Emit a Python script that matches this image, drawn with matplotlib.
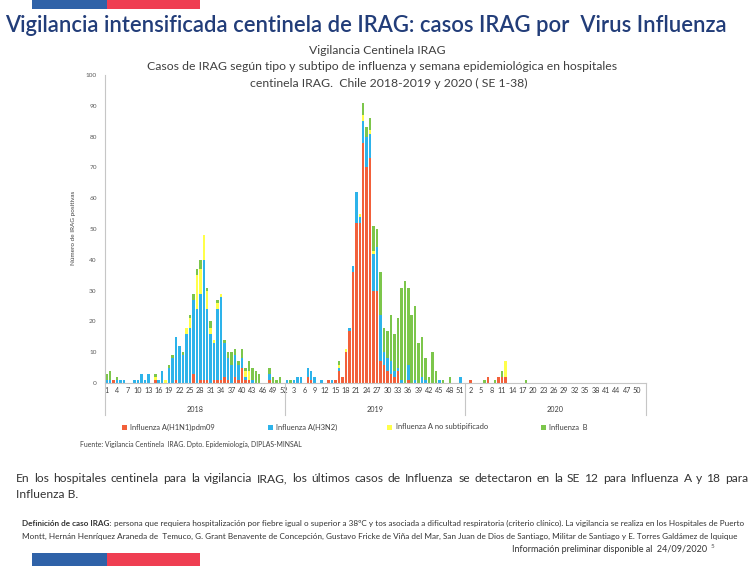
import matplotlib.pyplot as plt
import matplotlib.transforms as mtransforms
from matplotlib.patches import Rectangle
import numpy as np

plt.rcParams['font.family'] = ['Lato', 'DejaVu Sans']

# casos IRAG por semana epidemiologica (SE 1-52) y subtipo
h1n1_2018 = [0, 0, 1, 0, 0, 0, 0, 0, 0, 0,
             0, 0, 0, 0, 1, 0, 0, 0, 0, 0,
             1, 0, 0, 0, 0, 3, 0, 1, 1, 1,
             0, 1, 1, 1, 2, 1, 0, 2, 1, 5,
             1, 1, 0, 0, 0, 0, 0, 1, 0, 0,
             0, 0]
h3n2_2018 = [1, 1, 0, 1, 1, 1, 0, 0, 1, 1,
             3, 1, 3, 0, 0, 1, 4, 0, 5, 8,
             14, 12, 9, 16, 18, 24, 24, 28, 39, 23,
             16, 12, 23, 27, 11, 7, 6, 7, 5, 3,
             1, 0, 1, 0, 0, 0, 0, 2, 0, 0,
             0, 0]
nosub_2018 = [0, 0, 0, 0, 0, 0, 0, 0, 0, 0,
              0, 0, 0, 0, 1, 0, 0, 1, 0, 0,
              0, 0, 0, 2, 3, 0, 11, 8, 8, 6,
              2, 1, 2, 1, 0, 0, 0, 0, 0, 0,
              2, 3, 0, 0, 0, 0, 0, 0, 0, 0,
              0, 0]
b_2018 = [2, 3, 0, 1, 0, 0, 0, 0, 0, 0,
          0, 0, 0, 0, 1, 0, 0, 0, 1, 1,
          0, 0, 1, 0, 1, 2, 2, 3, 0, 1,
          2, 0, 1, 0, 1, 2, 4, 2, 1, 3,
          1, 3, 4, 4, 3, 0, 0, 2, 2, 1,
          2, 0]

h1n1_2019 = [0, 0, 0, 0, 0, 0, 2, 1, 0, 0,
             0, 0, 1, 0, 1, 4, 2, 10, 17, 36,
             52, 52, 78, 70, 73, 30, 30, 7, 6, 4,
             3, 2, 4, 0, 0, 1, 0, 0, 0, 0,
             0, 0, 0, 0, 0, 0, 0, 0, 0, 0,
             0, 0]
h3n2_2019 = [1, 0, 1, 2, 2, 0, 3, 3, 2, 0,
             1, 0, 0, 1, 0, 1, 0, 0, 1, 2,
             10, 2, 7, 10, 8, 12, 14, 15, 4, 4,
             4, 2, 1, 1, 0, 5, 0, 1, 0, 2,
             1, 0, 0, 0, 1, 0, 0, 0, 0, 0,
             2, 0]
nosub_2019 = [0, 0, 0, 0, 0, 0, 0, 0, 0, 0,
              0, 0, 0, 0, 0, 1, 0, 1, 0, 0,
              0, 1, 2, 0, 1, 1, 0, 0, 0, 0,
              0, 0, 0, 0, 0, 0, 0, 0, 0, 0,
              0, 0, 0, 0, 0, 0, 0, 0, 0, 0,
              0, 0]
b_2019 = [0, 1, 0, 0, 0, 0, 0, 0, 0, 0,
          0, 0, 0, 0, 0, 1, 0, 0, 0, 0,
          0, 0, 4, 3, 4, 8, 6, 14, 8, 9,
          15, 12, 16, 30, 33, 25, 22, 24, 13, 13,
          7, 2, 10, 4, 0, 1, 0, 2, 0, 0,
          0, 0]

h1n1_2020 = [0, 1, 0, 0, 0, 0, 2, 0, 0, 2,
             2, 2, 0, 0, 0, 0, 0, 0, 0, 0,
             0, 0, 0, 0, 0, 0, 0, 0, 0, 0,
             0, 0, 0, 0, 0, 0, 0, 0, 0, 0,
             0, 0, 0, 0, 0, 0, 0, 0, 0, 0,
             0, 0]
h3n2_2020 = [0] * 52
nosub_2020 = [0, 0, 0, 0, 0, 0, 0, 0, 0, 0,
              0, 5, 0, 0, 0, 0, 0, 0, 0, 0,
              0, 0, 0, 0, 0, 0, 0, 0, 0, 0,
              0, 0, 0, 0, 0, 0, 0, 0, 0, 0,
              0, 0, 0, 0, 0, 0, 0, 0, 0, 0,
              0, 0]
b_2020 = [0, 0, 0, 0, 0, 1, 0, 0, 1, 0,
          2, 0, 0, 0, 0, 0, 0, 1, 0, 0,
          0, 0, 0, 0, 0, 0, 0, 0, 0, 0,
          0, 0, 0, 0, 0, 0, 0, 0, 0, 0,
          0, 0, 0, 0, 0, 0, 0, 0, 0, 0,
          0, 0]

years = ["2018", "2019", "2020"]
weeks = list(range(1, 53)) * 3
series_names = ["Influenza A(H1N1)pdm09", "Influenza A(H3N2)",
                "Influenza A no subtipificado", "Influenza  B"]
colors = ["#f2603a", "#2db3ea", "#ffff4a", "#7cc64b"]

series = [
    np.array(h1n1_2018 + h1n1_2019 + h1n1_2020),
    np.array(h3n2_2018 + h3n2_2019 + h3n2_2020),
    np.array(nosub_2018 + nosub_2019 + nosub_2020),
    np.array(b_2018 + b_2019 + b_2020),
]

W, H = 754, 566
fig = plt.figure(figsize=(W / 100, H / 100), dpi=100)
fig.patch.set_facecolor("white")
renderer = fig.canvas.get_renderer()


def fx(x):
    return x / W


def fy(y):
    return 1 - y / H


def fit(x, y, s, width, **kw):
    # ajusta el tamaño de letra al ancho del texto en la lamina
    t = fig.text(fx(x), fy(y), s, fontsize=10, va="center", **kw)
    w = t.get_window_extent(renderer=renderer).width
    t.set_fontsize(10 * width / w)
    return t


def justify(x0, y, words, width, fs, **kw):
    # texto justificado: reparte el espacio sobrante entre las palabras
    items = []
    for w in words:
        t = fig.text(0, fy(y), w, fontsize=fs, va="center", **kw)
        items.append((t, t.get_window_extent(renderer=renderer).width))
    gap = (width - sum(wd for _, wd in items)) / (len(items) - 1)
    xpos = x0
    for t, wd in items:
        t.set_x(fx(xpos))
        xpos += wd + gap


# franjas de gobierno
fig.add_artist(Rectangle((fx(32), fy(9)), fx(75), 9 / H, color="#2f62a8", lw=0))
fig.add_artist(Rectangle((fx(107), fy(9)), fx(93), 9 / H, color="#ef3e52", lw=0))
fig.add_artist(Rectangle((fx(32), 0), fx(75), 13 / H, color="#2f62a8", lw=0))
fig.add_artist(Rectangle((fx(107), 0), fx(93), 13 / H, color="#ef3e52", lw=0))

fit(5, 26, "Vigilancia intensificada centinela de IRAG: casos IRAG por  Virus Influenza",
    723, color="#223d79", fontweight="semibold")

# titulo del grafico
sub = fit(147, 67, "Casos de IRAG según tipo y subtipo de influenza y semana epidemiológica en hospitales",
          470, color="#404040")
fs_sub = sub.get_fontsize()
fig.text(fx(377), fy(51), "Vigilancia Centinela IRAG", fontsize=fs_sub,
         color="#404040", ha="center", va="center")
fig.text(fx(389), fy(83), "centinela IRAG.  Chile 2018-2019 y 2020 ( SE 1-38)",
         fontsize=fs_sub, color="#404040", ha="center", va="center")

ax = fig.add_axes([fx(105), fy(383), (645.7 - 105) / W, 308 / H])
x = np.arange(len(weeks))
bottom = np.zeros(len(weeks))
for vals, name, c in zip(series, series_names, colors):
    ax.bar(x, vals, bottom=bottom, width=0.72, color=c, label=name, lw=0)
    bottom += vals

ax.set_xlim(-0.5, len(weeks) - 0.5)
ax.set_ylim(0, 100)
ax.set_yticks(range(0, 101, 10))
ax.set_xticks(x[::3])
ax.set_xticklabels([str(w) for w in weeks[::3]])
ax.tick_params(axis="y", length=0, pad=6, labelsize=4.6, labelcolor="#595959")
ax.tick_params(axis="x", length=0, pad=3, labelsize=5.2, labelcolor="#404040")
for s in ["top", "right"]:
    ax.spines[s].set_visible(False)
for s in ["left", "bottom"]:
    ax.spines[s].set_color("#c6c6c6")
    ax.spines[s].set_linewidth(0.8)

# separadores de año bajo el eje
trans = mtransforms.blended_transform_factory(ax.transData, ax.transAxes)
for xs in [-0.5, 51.5, 103.5, 155.5]:
    ax.plot([xs, xs], [0, -32 / 308], color="#c6c6c6", lw=0.8,
            transform=trans, clip_on=False)
for i, yr in enumerate(years):
    ax.text(i * 52 + 25.5, -26 / 308, yr, transform=trans, ha="center",
            va="center", fontsize=5.2, color="#404040")

fig.text(fx(73), fy(228), "Número de IRAG positivas", rotation=90,
         fontsize=4.6, color="#404040", ha="center", va="center")

# leyenda
legend_x = [124, 270, 390, 543]
for lx, name, c in zip(legend_x, series_names, colors):
    fig.add_artist(Rectangle((fx(lx - 2.5), fy(429.5)), 5 / W, 5 / H, color=c, lw=0))
    fig.text(fx(lx + 6), fy(427), name, fontsize=5.4, color="#404040", va="center")

fit(80, 444, "Fuente: Vigilancia Centinela  IRAG. Dpto. Epidemiología, DIPLAS-MINSAL",
    220, color="#404040")

# texto de la lamina (justificado como en la diapositiva)
last = fit(16, 495, "Influenza B.", 62, color="#333333")
body_fs = last.get_fontsize()
body = ("En los hospitales centinela para la vigilancia IRAG, los últimos casos de "
        "Influenza se detectaron en la SE 12 para Influenza A y 18 para")
justify(16, 479, body.split(), 732, body_fs, color="#333333")

bold = "Definición de caso IRAG: "
rest = ("persona que requiera hospitalización por fiebre igual o superior a 38ºC y tos asociada "
        "a dificultad respiratoria (criterio clínico). La vigilancia se realiza en los Hospitales de Puerto")
line = fit(22, 523, bold + rest, 716, color="#333333")
fs_def = line.get_fontsize()
line.set_visible(False)
tb = fig.text(fx(22), fy(523), bold, fontsize=fs_def, fontweight="bold",
              color="#333333", va="center")
wb = tb.get_window_extent(renderer=renderer).width
fig.text(fx(22 + wb), fy(523), rest, fontsize=fs_def, color="#333333", va="center")
fig.text(fx(22), fy(536), "Montt, Hernán Henríquez Araneda de  Temuco, G. Grant Benavente de "
         "Concepción, Gustavo Fricke de Viña del Mar, San Juan de Dios de Santiago, Militar de "
         "Santiago y E. Torres Galdámez de Iquique", fontsize=fs_def, color="#333333", va="center")

fit(512, 550, "Información preliminar disponible al  24/09/2020", 196, color="#333333")
fig.text(fx(711), fy(546), "5", fontsize=4.5, color="#555555", va="center")

fig.savefig("out.png", dpi=100)
